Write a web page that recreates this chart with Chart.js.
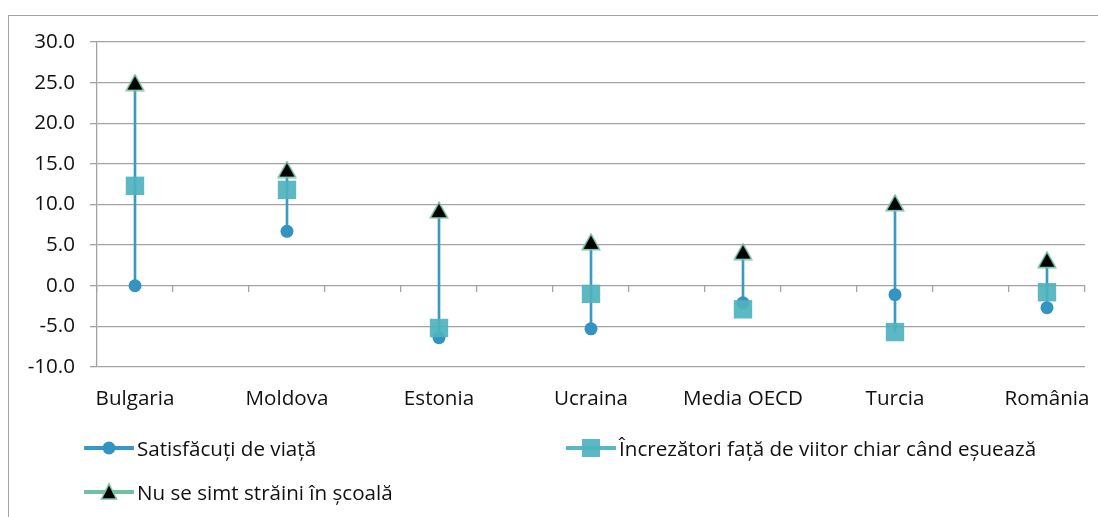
<!DOCTYPE html>
<html><head><meta charset="utf-8">
<script src="https://cdn.jsdelivr.net/npm/chart.js@4.4.1/dist/chart.umd.min.js"></script>
<style>
html,body{margin:0;padding:0;background:#fff;}
#wrap{position:relative;width:1098px;height:517px;overflow:hidden;background:#fff;}
#frame{position:absolute;left:8px;top:15px;width:1200px;height:600px;border-left:1.5px solid #a3a3a3;border-top:1.5px solid #a3a3a3;}
canvas{position:absolute;left:0;top:0;}
.leg{position:absolute;height:24px;display:flex;align-items:center;font-family:'Open Sans';font-size:20.6px;color:#111;white-space:nowrap;}
.leg svg{margin-right:3px;}
</style></head><body>
<div id="wrap"><div id="frame"></div><canvas id="c" width="1098" height="517"></canvas>
<div id="legend"></div></div>
<script>
const categories = ['Bulgaria','Moldova','Estonia','Ucraina','Media OECD','Turcia','România'];
const satisfacuti = [0.0, 6.7, -6.4, -5.3, -2.1, -1.1, -2.7];
const increzatori = [12.3, 11.8, -5.2, -1.0, -2.9, -5.7, -0.8];
const nuStraini = [25.0, 14.3, 9.3, 5.4, 4.2, 10.2, 3.2];
const seriesNames = ['Satisfăcuți de viață', 'Încrezători față de viitor chiar când eșuează', 'Nu se simt străini în școală'];
const yMin = -10, yMax = 30, yStep = 5;

const FONT = 'Open Sans';
const C_CIRCLE = '#3394c1';
const C_SQUARE = 'rgba(78,178,190,0.92)';
const C_TRI_BORDER = '#78c4a6';
const C_HILO = '#3a9ac4';
const C_GRID = '#a3a3a3';

function spread(arr){ const out=[]; arr.forEach((v,i)=>{ out.push(v); if(i<arr.length-1) out.push(null); }); return out; }
const labels = spread(categories).map(v => v === null ? '' : v);
const hiLo = categories.map((_, i) => { const vals = [satisfacuti[i], increzatori[i], nuStraini[i]]; return [Math.min(...vals), Math.max(...vals)]; });

// triangle marker image
const tri = document.createElement('canvas');
tri.width = 20; tri.height = 18;
(function(){ const g = tri.getContext('2d'); g.beginPath(); g.moveTo(10,1.2); g.lineTo(18.8,16.8); g.lineTo(1.2,16.8); g.closePath(); g.fillStyle='#000'; g.fill(); g.lineWidth=1.5; g.strokeStyle=C_TRI_BORDER; g.stroke(); })();

function noPad(s){ s.paddingLeft = 0; s.paddingRight = 0; }

new Chart(document.getElementById('c'), {
  type: 'line',
  data: {
    labels: labels,
    datasets: [
      { type:'bar', label:'hilo', data: spread(hiLo), backgroundColor: C_HILO, barThickness: 2, order: 3, grouped:false },
      { label: seriesNames[0], data: spread(satisfacuti), showLine:false, pointStyle:'circle', pointRadius:6.5, backgroundColor:C_CIRCLE, borderColor:C_CIRCLE, pointBorderWidth:0, order:2 },
      { label: seriesNames[1], data: spread(increzatori), showLine:false, pointStyle:'rect', pointRadius:13, backgroundColor:C_SQUARE, borderColor:C_SQUARE, pointBorderWidth:0, order:1 },
      { label: seriesNames[2], data: spread(nuStraini), showLine:false, pointStyle:tri, pointRadius:9, backgroundColor:'#000', borderColor:C_TRI_BORDER, order:0 }
    ]
  },
  options: {
    responsive:false, animation:false, events:[],
    layout:{ padding:{ top:42, right:13, left:0, bottom:0 } },
    plugins:{ legend:{ display:false }, tooltip:{ enabled:false } },
    scales:{
      x:{ type:'category', offset:true, grid:{ display:false, drawTicks:false }, border:{ display:false },
          ticks:{ autoSkip:false, maxRotation:0, padding:20, font:{ family:FONT, size:20.6 }, color:'#111' },
          afterFit(s){ s.height = 150; noPad(s); } },
      x2:{ type:'category', position:{ y:0 }, offset:true,
           grid:{ offset:true, drawOnChartArea:false, drawTicks:true, tickLength:6, color:C_GRID, lineWidth:1.3 },
           border:{ display:false }, ticks:{ display:false }, afterFit(s){ noPad(s); } },
      y:{ min:yMin, max:yMax,
          ticks:{ stepSize:yStep, callback:v => v.toFixed(1), padding:15, font:{ family:FONT, size:20.6 }, color:'#111' },
          grid:{ color:C_GRID, lineWidth:1.3, tickLength:7 }, border:{ color:C_GRID, width:1.3 },
          afterFit(s){ s.width = 97; } }
    }
  }
});

// legend
const icons = [
  `<svg width="50" height="20"><line x1="1" y1="10" x2="49" y2="10" stroke="#3797c6" stroke-width="4" stroke-linecap="round"/><circle cx="25" cy="10" r="6.5" fill="${C_CIRCLE}"/></svg>`,
  `<svg width="50" height="20"><line x1="1" y1="10" x2="49" y2="10" stroke="#58b7c4" stroke-width="4" stroke-linecap="round"/><rect x="16" y="1" width="18" height="18" fill="${C_SQUARE}"/></svg>`,
  `<svg width="50" height="20"><line x1="1" y1="10" x2="49" y2="10" stroke="#72c0a2" stroke-width="4" stroke-linecap="round"/><path d="M25 2 L32.5 17 L17.5 17 Z" fill="#000" stroke="${C_TRI_BORDER}" stroke-width="1.5"/></svg>`
];
const legPos = [[84,436],[566,436],[84,480]];
const lg = document.getElementById('legend');
seriesNames.forEach((n,i)=>{ const d=document.createElement('div'); d.className='leg'; d.style.left=legPos[i][0]+'px'; d.style.top=legPos[i][1]+'px'; d.innerHTML=icons[i]+'<span>'+n+'</span>'; lg.appendChild(d); });
</script>
</body></html>
